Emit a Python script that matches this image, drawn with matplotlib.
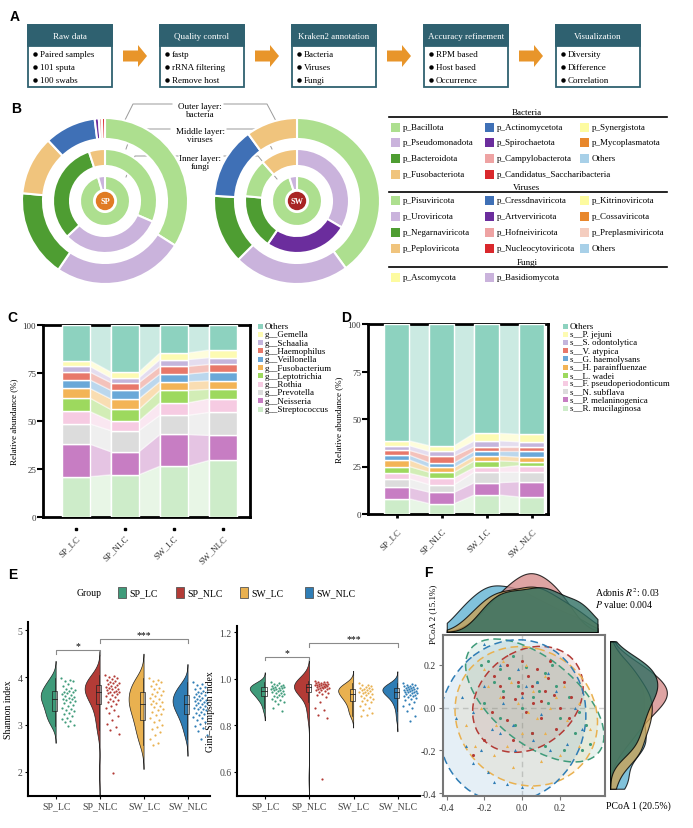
import numpy as np
import matplotlib
matplotlib.use("Agg")
import matplotlib.pyplot as plt
from matplotlib.patches import Rectangle, Wedge, Circle, Polygon, Ellipse, FancyArrow

W, H = 693, 829
plt.rcParams['font.family'] = ['Liberation Serif', 'DejaVu Serif']
plt.rcParams['mathtext.fontset'] = 'stix'
plt.rcParams['font.size'] = 6.5
plt.rcParams['axes.unicode_minus'] = False

# ---------------- data ----------------
# A: workflow
steps = ['Raw data', 'Quality control', 'Kraken2 annotation', 'Accuracy refinement', 'Visualization']
step_items = [['Paired samples', '101 sputa', '100 swabs'],
              ['fastp', 'rRNA filtering', 'Remove host'],
              ['Bacteria', 'Viruses', 'Fungi'],
              ['RPM based', 'Host based', 'Occurrence'],
              ['Diversity', 'Difference', 'Correlation']]

# B: phylum composition (% , clockwise from 12 o'clock)
sp_bac_names = ['p_Bacillota', 'p_Pseudomonadota', 'p_Bacteroidota', 'p_Fusobacteriota',
                'p_Actinomycetota', 'p_Spirochaetota', 'p_Campylobacterota', 'p_Candidatus_Saccharibacteria']
sp_bac_pct = [34, 25.5, 17, 11.5, 10, 0.8, 0.6, 0.6]
sw_bac_names = ['p_Bacillota', 'p_Pseudomonadota', 'p_Bacteroidota', 'p_Actinomycetota', 'p_Fusobacteriota']
sw_bac_pct = [40, 22.5, 13.5, 14, 10]
sp_vir_names = ['p_Pisuviricota', 'p_Uroviricota', 'p_Negarnaviricota', 'p_Peploviricota']
sp_vir_pct = [31.5, 31.5, 32, 5]
sw_vir_names = ['p_Uroviricota', 'p_Artverviricota', 'p_Negarnaviricota', 'p_Pisuviricota', 'p_Peploviricota']
sw_vir_pct = [33.5, 26, 17, 12, 11.5]
fungi_names = ['p_Ascomycota', 'p_Basidiomycota']
sp_fungi_pct = [95.5, 4.5]
sw_fungi_pct = [95, 5]

bac_legend = [['p_Bacillota', 'p_Pseudomonadota', 'p_Bacteroidota', 'p_Fusobacteriota'],
              ['p_Actinomycetota', 'p_Spirochaetota', 'p_Campylobacterota', 'p_Candidatus_Saccharibacteria'],
              ['p_Synergistota', 'p_Mycoplasmatota', 'Others']]
vir_legend = [['p_Pisuviricota', 'p_Uroviricota', 'p_Negarnaviricota', 'p_Peploviricota'],
              ['p_Cressdnaviricota', 'p_Artverviricota', 'p_Hofneiviricota', 'p_Nucleocytoviricota'],
              ['p_Kitrinoviricota', 'p_Cossaviricota', 'p_Preplasmiviricota', 'Others']]
fungi_legend = [['p_Ascomycota'], ['p_Basidiomycota']]

# C / D: stacked composition (bottom -> top)
groups = ['SP_LC', 'SP_NLC', 'SW_LC', 'SW_NLC']
genus_names = ['g__Streptococcus', 'g__Neisseria', 'g__Prevotella', 'g__Rothia', 'g__Leptotrichia',
               'g__Fusobacterium', 'g__Veillonella', 'g__Haemophilus', 'g__Schaalia', 'g__Gemella', 'Others']
genus_sp_lc = [21, 17, 10.5, 6.5, 7, 5, 4.5, 4, 3, 3, 18.5]
genus_sp_nlc = [22, 12, 11, 5, 6, 5.5, 4.5, 4, 2.5, 3, 24.5]
genus_sw_lc = [26.5, 16.5, 10, 6.5, 6.5, 4.5, 4, 4, 3.5, 3.5, 14.5]
genus_sw_nlc = [29.5, 13, 12, 7, 5, 4.5, 4.5, 4, 3.5, 4, 13]

species_names = ['s__R. mucilaginosa', 's__P. melaninogenica', 's__N. subflava', 's__F. pseudoperiodonticum',
                 's__L. wadei', 's__H. parainfluenzae', 's__G. haemolysans', 's__V. atypica',
                 's__S. odontolytica', 's__P. jejuni', 'Others']
species_sp_lc = [8, 6, 4.5, 3, 3.5, 3.5, 2.5, 2.5, 2.5, 2.5, 61.5]
species_sp_nlc = [5.5, 6, 4, 3.5, 3, 2.5, 2.5, 3.5, 2.5, 3, 64]
species_sw_lc = [10, 6.5, 5.5, 2.5, 3.5, 2.5, 2.5, 2.5, 3, 4, 57.5]
species_sw_nlc = [9, 8, 5, 3.5, 2, 2.5, 3, 2.5, 2.5, 4, 58]

# E: alpha diversity
shannon_sp_lc = [3.98, 3.95, 3.93, 3.92, 3.85, 3.82, 3.78, 3.75, 3.74, 3.72, 3.70, 3.68, 3.66, 3.65, 3.62,
                 3.60, 3.58, 3.57, 3.55, 3.54, 3.52, 3.50, 3.47, 3.45, 3.42, 3.40, 3.36, 3.33, 3.30, 3.28,
                 3.25, 3.22, 3.18, 3.15, 3.12, 3.08, 3.05, 3.00, 2.96]
shannon_sp_nlc = [4.05, 4.02, 4.00, 3.98, 3.96, 3.94, 3.92, 3.90, 3.88, 3.87, 3.85, 3.84, 3.82, 3.80, 3.79,
                  3.77, 3.76, 3.75, 3.73, 3.72, 3.70, 3.69, 3.68, 3.66, 3.64, 3.62, 3.60, 3.58, 3.55, 3.52,
                  3.50, 3.47, 3.44, 3.40, 3.35, 3.30, 3.25, 3.18, 3.10, 3.02, 2.95, 2.88, 2.80, 1.98]
shannon_sw_lc = [3.98, 3.95, 3.92, 3.90, 3.86, 3.82, 3.78, 3.75, 3.72, 3.68, 3.65, 3.62, 3.60, 3.57, 3.54,
                 3.50, 3.48, 3.45, 3.43, 3.40, 3.37, 3.34, 3.30, 3.27, 3.23, 3.20, 3.15, 3.10, 3.05, 3.00,
                 2.95, 2.90, 2.84, 2.78, 2.70, 2.62, 2.56]
shannon_sw_nlc = [3.90, 3.86, 3.83, 3.80, 3.78, 3.75, 3.72, 3.70, 3.68, 3.66, 3.64, 3.62, 3.60, 3.58, 3.56,
                  3.55, 3.53, 3.51, 3.50, 3.48, 3.46, 3.45, 3.43, 3.42, 3.40, 3.38, 3.36, 3.34, 3.32, 3.30,
                  3.27, 3.25, 3.22, 3.20, 3.17, 3.14, 3.10, 3.06, 3.02, 2.98, 2.92, 2.86, 2.78, 2.70]
gini_sp_lc = [0.985, 0.98, 0.978, 0.975, 0.972, 0.97, 0.968, 0.966, 0.964, 0.962, 0.96, 0.958, 0.956, 0.954,
              0.952, 0.95, 0.948, 0.946, 0.944, 0.94, 0.937, 0.934, 0.93, 0.927, 0.924, 0.92, 0.915, 0.91,
              0.905, 0.9, 0.89, 0.875, 0.86]
gini_sp_nlc = [0.99, 0.988, 0.986, 0.984, 0.982, 0.98, 0.979, 0.978, 0.977, 0.976, 0.975, 0.974, 0.972, 0.971,
               0.97, 0.968, 0.967, 0.966, 0.965, 0.963, 0.962, 0.96, 0.958, 0.956, 0.954, 0.952, 0.95, 0.948,
               0.945, 0.94, 0.935, 0.93, 0.92, 0.9, 0.875, 0.865, 0.845, 0.83, 0.57]
gini_sw_lc = [0.98, 0.975, 0.972, 0.968, 0.965, 0.962, 0.96, 0.957, 0.955, 0.952, 0.95, 0.948, 0.945, 0.943,
              0.94, 0.937, 0.934, 0.93, 0.926, 0.922, 0.918, 0.914, 0.91, 0.905, 0.9, 0.893, 0.885, 0.875,
              0.865, 0.855, 0.845, 0.84]
gini_sw_nlc = [0.982, 0.978, 0.975, 0.972, 0.97, 0.968, 0.966, 0.964, 0.962, 0.96, 0.958, 0.956, 0.955, 0.953,
               0.951, 0.95, 0.948, 0.946, 0.945, 0.943, 0.941, 0.94, 0.938, 0.935, 0.932, 0.93, 0.927, 0.924,
               0.92, 0.916, 0.912, 0.907, 0.9, 0.893, 0.885, 0.875, 0.86, 0.84, 0.82]

# F: PCoA coordinates
pcoa_sp_lc = [(-0.22, 0.20), (-0.18, 0.22), (-0.12, 0.18), (-0.05, 0.24), (0.02, 0.19), (0.08, 0.12),
              (0.12, 0.16), (0.18, 0.10), (0.25, 0.05), (0.30, -0.02), (0.34, -0.08), (0.36, -0.17),
              (0.28, -0.12), (0.20, -0.05), (0.14, 0.02), (0.06, 0.05), (-0.02, 0.10), (-0.10, 0.08),
              (-0.15, 0.12), (-0.20, 0.02), (-0.12, -0.05), (-0.04, -0.08), (0.05, -0.12), (0.12, -0.18),
              (0.22, -0.20), (0.32, -0.20), (0.09, 0.08), (-0.07, 0.14), (0.16, 0.20), (0.00, 0.00)]
pcoa_sp_nlc = [(-0.15, 0.15), (-0.08, 0.20), (0.00, 0.22), (0.08, 0.18), (0.15, 0.22), (0.22, 0.12),
               (0.26, 0.05), (0.20, 0.00), (0.12, 0.08), (0.05, 0.10), (-0.02, 0.12), (-0.10, 0.05),
               (-0.16, -0.02), (-0.08, -0.06), (0.02, -0.02), (0.10, -0.05), (0.18, -0.10), (0.25, -0.05),
               (0.06, 0.02), (-0.04, 0.04), (0.14, 0.14), (-0.12, 0.10), (0.03, 0.15), (0.10, 0.03),
               (-0.20, -0.15), (-0.26, -0.22), (-0.05, -0.15), (0.05, -0.12), (0.17, 0.06), (0.00, 0.07)]
pcoa_sw_lc = [(-0.20, 0.18), (-0.10, 0.22), (0.02, 0.20), (0.12, 0.15), (0.22, 0.10), (0.30, 0.02),
              (0.36, -0.10), (0.30, -0.18), (0.20, -0.22), (0.10, -0.25), (0.05, -0.37), (-0.05, -0.28),
              (-0.15, -0.22), (-0.25, -0.18), (-0.30, -0.08), (-0.22, 0.00), (-0.12, 0.05), (-0.02, 0.02),
              (0.08, -0.05), (0.15, 0.00), (0.06, 0.08), (-0.06, 0.12), (-0.14, -0.08), (0.00, -0.12),
              (0.12, -0.12), (0.24, -0.06), (-0.08, -0.18), (0.18, 0.05), (0.03, -0.02), (-0.18, 0.10)]
pcoa_sw_nlc = [(-0.20, 0.30), (-0.32, 0.05), (-0.35, -0.05), (-0.30, -0.18), (-0.26, -0.26), (-0.18, -0.30),
               (-0.08, -0.36), (0.00, -0.37), (-0.15, -0.35), (-0.22, -0.20), (-0.12, -0.12), (-0.04, -0.20),
               (0.06, -0.15), (0.15, -0.20), (0.24, -0.17), (0.32, -0.10), (0.28, 0.00), (0.18, 0.08),
               (0.08, 0.12), (-0.02, 0.18), (-0.12, 0.20), (-0.20, 0.10), (-0.26, -0.02), (-0.10, 0.02),
               (0.00, 0.05), (0.10, -0.03), (-0.05, -0.08), (0.02, 0.10), (-0.16, -0.10), (0.14, 0.16)]

# ---------------- colours ----------------
teal = '#2f6170'
phylum_colors = {
    'p_Bacillota': '#addf8f', 'p_Pseudomonadota': '#cab3dc', 'p_Bacteroidota': '#4e9d32',
    'p_Fusobacteriota': '#f0c47d', 'p_Actinomycetota': '#3f70b6', 'p_Spirochaetota': '#6b2d9d',
    'p_Campylobacterota': '#eea3a3', 'p_Candidatus_Saccharibacteria': '#d9282c',
    'p_Synergistota': '#fdfba0', 'p_Mycoplasmatota': '#e8872c', 'Others': '#a8d0e8',
    'p_Pisuviricota': '#addf8f', 'p_Uroviricota': '#cab3dc', 'p_Negarnaviricota': '#4e9d32',
    'p_Peploviricota': '#f0c47d', 'p_Cressdnaviricota': '#3f70b6', 'p_Artverviricota': '#6b2d9d',
    'p_Hofneiviricota': '#eea3a3', 'p_Nucleocytoviricota': '#d9282c', 'p_Kitrinoviricota': '#fdfba0',
    'p_Cossaviricota': '#e8872c', 'p_Preplasmiviricota': '#f4cdbf',
    'p_Ascomycota': '#fdfba0', 'p_Basidiomycota': '#cab3dc'}
fungi_ring_colors = ['#addf8f', '#cab3dc']
stack_colors = ['#cdecc9', '#c77dc3', '#dcdcdc', '#f6cbe2', '#9dd95e', '#f3b456',
                '#6aa8d8', '#e8786a', '#c4b5dc', '#fdfbb2', '#8dd2bf']
group_colors = ['#3f9b7a', '#b33b36', '#e9b150', '#2f7db5']
margin_colors = ['#2f6f63', '#d68e8c', '#c9a257', '#62b3d3']

fig = plt.figure(figsize=(W / 100, H / 100), dpi=100)


def px_axes(x0, y0, x1, y1):
    return fig.add_axes([x0 / W, 1 - y1 / H, (x1 - x0) / W, (y1 - y0) / H])


def kde(vals, grid, bw=None):
    v = np.asarray(vals, float)
    if bw is None:
        bw = 1.06 * v.std(ddof=1) * len(v) ** (-0.2)
    d = np.exp(-0.5 * ((grid[:, None] - v[None, :]) / bw) ** 2).sum(1)
    return d / (len(v) * bw * np.sqrt(2 * np.pi))


bg = px_axes(0, 0, W, H)
bg.set_xlim(0, W)
bg.set_ylim(H, 0)
bg.axis('off')

for lab, (lx, ly) in zip('ABCDEF', [(15, 17), (16, 109), (12, 318), (346, 318), (13, 575), (428, 573)]):
    bg.text(lx, ly, lab, fontsize=10, fontweight='bold', family='Liberation Sans', ha='center', va='center')

# ---------------- A ----------------
box_x = [28, 160, 292, 424, 556]
for i, (bx, title, items) in enumerate(zip(box_x, steps, step_items)):
    bg.add_patch(Rectangle((bx, 26), 84, 62, facecolor='white', edgecolor=teal, lw=1.3))
    bg.add_patch(Rectangle((bx, 26), 84, 21, facecolor=teal, edgecolor=teal, lw=1.3))
    bg.text(bx + 42, 36.5, title, color='white', ha='center', va='center', fontsize=6.5)
    for j, it in enumerate(items):
        y = 55 + 13 * j
        bg.plot(bx + 7, y, 'o', ms=2.2, color='black')
        bg.text(bx + 12, y, it, va='center', fontsize=6.5)
    if i < 4:
        bg.add_patch(FancyArrow(bx + 95, 57, 24, 0, width=11, head_width=22, head_length=9,
                                length_includes_head=True, color='#e8952a', lw=0))

# ---------------- B donuts ----------------
def donut(cx, cy, rings, label, ccol):
    ax = px_axes(cx - 88, cy - 88, cx + 88, cy + 88)
    ax.set_xlim(-88, 88)
    ax.set_ylim(-88, 88)
    ax.axis('off')
    for pcts, cols, r_out, width in rings:
        start = 0
        for p, c in zip(pcts, cols):
            ax.add_patch(Wedge((0, 0), r_out, 90 - (start + p) * 3.6, 90 - start * 3.6, width=width,
                               facecolor=c, edgecolor='white', lw=1.5))
            start += p
    ax.add_patch(Circle((0, 0), 8.5, color=ccol))
    ax.text(0, 0, label, color='white', fontweight='bold', ha='center', va='center', fontsize=6)


donut(105, 202, [(sp_bac_pct, [phylum_colors[n] for n in sp_bac_names], 83, 21),
                 (sp_vir_pct, [phylum_colors[n] for n in sp_vir_names], 52, 17),
                 (sp_fungi_pct, fungi_ring_colors, 25, 14)], 'SP', '#e07b24')
donut(297, 202, [(sw_bac_pct, [phylum_colors[n] for n in sw_bac_names], 83, 21),
                 (sw_vir_pct, [phylum_colors[n] for n in sw_vir_names], 52, 17),
                 (sw_fungi_pct, fungi_ring_colors, 25, 14)], 'SW', '#a82424')

for txt, ty, left, right in [('Outer layer:\nbacteria', 111, [(172, 105), (133, 105), (125, 121)],
                              [(224, 105), (267, 105), (276, 122)]),
                             ('Middle layer:\nviruses', 136, [(170, 130), (133, 130), (126, 150)],
                              [(227, 130), (262, 130), (272, 150)]),
                             ('Inner layer:\nfungi', 163, [(178, 157), (135, 157), (126, 178)],
                              [(224, 157), (258, 157), (277, 180)])]:
    bg.text(200, ty, txt, ha='center', va='center', fontsize=6.5, linespacing=1.1)
    for seg in (left, right):
        xs, ys = zip(*seg)
        bg.plot(xs, ys, color='#9a9a9a', lw=0.7)

# B legend
col_x = [391, 485, 580]
for title, ty, block, rows_y in [('Bacteria', 113, bac_legend, [128, 143, 159, 175]),
                                 ('Viruses', 188, vir_legend, [201, 217, 233, 249]),
                                 ('Fungi', 263, fungi_legend, [278])]:
    bg.text(527, ty, title, ha='center', va='center', fontsize=6.5)
    bg.plot([389, 667], [ty + 5, ty + 5], color='black', lw=1.2)
    for cx, names in zip(col_x, block):
        for ry, nm in zip(rows_y, names):
            bg.add_patch(Rectangle((cx, ry - 4.5), 9, 9, facecolor=phylum_colors[nm], lw=0))
            bg.text(cx + 12, ry, nm, va='center', fontsize=6.5)

# ---------------- C / D ----------------
def stacked(ax, cols, width, legend_names, leg_x, leg_y0, step):
    vals = np.array(cols)
    tops = vals.cumsum(axis=1)
    bots = tops - vals
    x = np.arange(len(cols))
    for k in range(vals.shape[1]):
        ax.bar(x, vals[:, k], bottom=bots[:, k], width=width, color=stack_colors[k],
               edgecolor='white', lw=1.0, zorder=3)
        for i in range(len(x) - 1):
            ax.add_patch(Polygon([(x[i] + width / 2, bots[i, k]), (x[i + 1] - width / 2, bots[i + 1, k]),
                                  (x[i + 1] - width / 2, tops[i + 1, k]), (x[i] + width / 2, tops[i, k])],
                                 closed=True, facecolor=stack_colors[k], alpha=0.45,
                                 edgecolor='white', lw=1.0, zorder=1))
    ax.set_ylim(0, 100)
    ax.set_yticks([0, 25, 50, 75, 100])
    ax.set_xticks(x)
    ax.set_xticklabels(groups, rotation=45, ha='right', rotation_mode='anchor', fontsize=6.5, color='#333')
    ax.tick_params(axis='y', length=4, width=1.5, labelsize=6.5, labelcolor='#333', pad=1)
    ax.set_ylabel('Relative abundance (%)', fontsize=6.5, labelpad=3)
    for s in ax.spines.values():
        s.set_linewidth(2)
        s.set_zorder(2)
    for k, nm in enumerate(reversed(legend_names)):
        y = leg_y0 + step * k
        bg.add_patch(Rectangle((leg_x - 2.5, y - 2.5), 5, 5, facecolor=stack_colors[::-1][k], lw=0))
        bg.text(leg_x + 5, y, nm, va='center', fontsize=6.5)


axC = px_axes(43, 326, 250, 518)
stacked(axC, [genus_sp_lc, genus_sp_nlc, genus_sw_lc, genus_sw_nlc], 0.57, genus_names, 260, 327, 8.3)
axC.set_xlim(-0.67, 3.55)
axC.tick_params(axis='x', length=0, pad=12)
axC.plot(np.arange(4), [-0.06] * 4, 's', ms=2, color='black', transform=axC.get_xaxis_transform(),
         clip_on=False)

axD = px_axes(368, 325, 548, 515)
stacked(axD, [species_sp_lc, species_sp_nlc, species_sw_lc, species_sw_nlc], 0.56, species_names, 565, 327, 8.2)
axD.set_xlim(-0.64, 3.36)
axD.tick_params(axis='x', length=3, width=2, pad=6)

# ---------------- E ----------------
def half_violin(ax, pos, vals, color, maxw=0.34):
    v = np.asarray(vals, float)
    bw = 1.06 * v.std(ddof=1) * len(v) ** (-0.2)
    grid = np.linspace(v.min() - 2.5 * bw, v.max() + 2.5 * bw, 300)
    d = kde(v, grid, bw)
    d = d / d.max() * maxw
    xs = np.concatenate([[pos], pos - d, [pos]])
    ys = np.concatenate([[grid[0]], grid, [grid[-1]]])
    ax.fill(xs, ys, facecolor=color, edgecolor='#222', lw=0.5, zorder=2)
    q1, med, q3 = np.percentile(v, [25, 50, 75])
    iqr = q3 - q1
    lo = v[v >= q1 - 1.5 * iqr].min()
    hi = v[v <= q3 + 1.5 * iqr].max()
    bx = pos - 0.03
    ax.add_patch(Rectangle((bx - 0.06, q1), 0.12, q3 - q1, fill=False, edgecolor='#222', lw=0.5, zorder=3))
    ax.plot([bx - 0.06, bx + 0.06], [med, med], color='#222', lw=0.6, zorder=3)
    ax.plot([bx, bx], [lo, q1], color='#222', lw=0.5, zorder=3)
    ax.plot([bx, bx], [q3, hi], color='#222', lw=0.5, zorder=3)
    jit = 0.12 + 0.32 * ((np.arange(len(v)) * 0.618034) % 1)
    ax.scatter(pos + jit, v, s=2.5, color=color, lw=0, zorder=3)


def bracket(ax, x0, x1, y, drop, label):
    ax.plot([x0, x0, x1, x1], [y - drop, y, y, y - drop], color='#8a8a8a', lw=0.8)
    ax.text((x0 + x1) / 2, y, label, ha='center', va='bottom', fontsize=7)


for box, data, ylim, yt, ylab, brk in [
        ((28, 623, 210, 797), [shannon_sp_lc, shannon_sp_nlc, shannon_sw_lc, shannon_sw_nlc], (1.49, 5.17),
         [2, 3, 4, 5], 'Shannon index', [(0, 1, 4.57, 0.08, '*'), (1, 3, 4.8, 0.08, '***')]),
        ((237, 627, 420, 797), [gini_sp_lc, gini_sp_nlc, gini_sw_lc, gini_sw_nlc], (0.497, 1.226),
         [0.6, 0.8, 1.0, 1.2], 'Gini–Simpson index', [(0, 1, 1.094, 0.015, '*'), (1, 3, 1.153, 0.015, '***')])]:
    ax = px_axes(*box)
    for i, (vals, c) in enumerate(zip(data, group_colors)):
        half_violin(ax, i, vals, c)
    for b in brk:
        bracket(ax, *b)
    ax.set_xlim(-0.64, 3.5)
    ax.set_ylim(*ylim)
    ax.set_xticks(range(4))
    ax.set_xticklabels(groups, fontsize=7, color='#333')
    ax.set_yticks(yt)
    if yt[0] < 1:
        ax.set_yticklabels(['%.1f' % t for t in yt])
    ax.tick_params(length=2, labelsize=7, labelcolor='#444', pad=2)
    ax.set_ylabel(ylab, fontsize=7, labelpad=3)
    for s in ['top', 'right']:
        ax.spines[s].set_visible(False)
    for s in ['left', 'bottom']:
        ax.spines[s].set_linewidth(1.5)

bg.text(77, 593, 'Group', va='center', fontsize=7)
for g, c, lx in zip(groups, group_colors, [118, 176, 240, 305]):
    bg.add_patch(Rectangle((lx, 588), 8, 11, facecolor=c, edgecolor='#555', lw=0.6))
    bg.text(lx + 11, 593.5, g, va='center', fontsize=7)

# ---------------- F ----------------
axF = px_axes(443, 636, 605, 797)
axF.set_xlim(-0.42, 0.44)
axF.set_ylim(-0.414, 0.34)
axF.axhline(0, color='#d0d0d0', lw=1, ls=(0, (4, 3)), zorder=0)
axF.axvline(0, color='#d0d0d0', lw=1, ls=(0, (4, 3)), zorder=0)
pcoa_sets = [pcoa_sp_lc, pcoa_sp_nlc, pcoa_sw_lc, pcoa_sw_nlc]
markers = ['o', 'o', '^', '^']
for pts, c, mk in zip(pcoa_sets, group_colors, markers):
    arr = np.array(pts)
    mean = arr.mean(0)
    evals, evecs = np.linalg.eigh(np.cov(arr.T))
    k = np.sqrt(4.605)
    ang = np.degrees(np.arctan2(evecs[1, 1], evecs[0, 1]))
    ew, eh = 2 * k * np.sqrt(evals[1]), 2 * k * np.sqrt(evals[0])
    axF.add_patch(Ellipse(mean, ew, eh, angle=ang, facecolor=c, alpha=0.12, lw=0, zorder=1))
    axF.add_patch(Ellipse(mean, ew, eh, angle=ang, fill=False, edgecolor=c, ls=(0, (5, 3)), lw=1.1, zorder=2))
    axF.scatter(arr[:, 0], arr[:, 1], s=5, color=c, marker=mk, lw=0, zorder=3)
axF.set_xticks([-0.4, -0.2, 0.0, 0.2])
axF.set_xticklabels(['-0.4', '-0.2', '0.0', '0.2'])
axF.set_yticks([-0.4, -0.2, 0.0, 0.2])
axF.set_yticklabels(['-0.4', '-0.2', '0.0', '0.2'])
axF.tick_params(length=3, color='#777', labelsize=7, labelcolor='#333', pad=2)
for s in axF.spines.values():
    s.set_linewidth(1.5)
    s.set_color('#777')

axT = px_axes(443, 573, 605, 633)
axR = px_axes(610, 636, 668, 797)
gx = np.linspace(-0.4, 0.4, 300)
gy = np.linspace(-0.38, 0.31, 300)
dmax_t, dmax_r = 0, 0
for idx in [3, 1, 2, 0]:
    arr = np.array(pcoa_sets[idx])
    dt = kde(arr[:, 0], gx, 0.07)
    dr = kde(arr[:, 1], gy, 0.06)
    dmax_t, dmax_r = max(dmax_t, dt.max()), max(dmax_r, dr.max())
    axT.fill_between(gx, dt, color=margin_colors[idx], alpha=0.8, edgecolor='black', lw=0.8)
    axR.fill_betweenx(gy, dr, color=margin_colors[idx], alpha=0.8, edgecolor='black', lw=0.8)
axT.set_xlim(axF.get_xlim())
axT.set_ylim(0, dmax_t * 1.02)
axT.axis('off')
axR.set_ylim(axF.get_ylim())
axR.set_xlim(0, dmax_r * 1.02)
axR.axis('off')

bg.text(433, 614, 'PCoA 2 (15.1%)', rotation=90, ha='center', va='center', fontsize=6.5)
bg.text(606, 806, 'PCoA 1 (20.5%)', ha='left', va='center', fontsize=7)
bg.text(595, 593, r'Adonis $\mathit{R}^2$: 0.03', ha='left', va='center', fontsize=7)
bg.text(595, 604, r'$\mathit{P}$ value: 0.004', ha='left', va='center', fontsize=7)

fig.savefig('out.png', dpi=100)
